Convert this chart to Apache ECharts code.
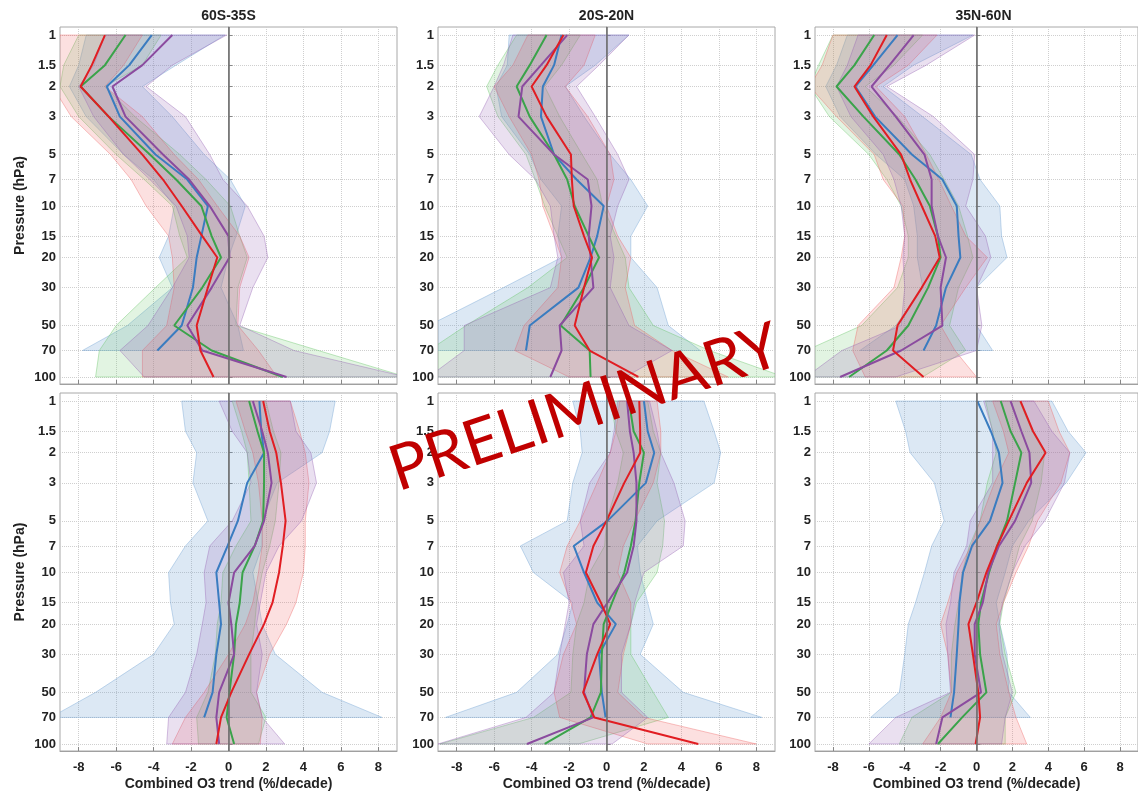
<!DOCTYPE html>
<html><head><meta charset="utf-8">
<script src="https://cdn.jsdelivr.net/npm/echarts@6/dist/echarts.min.js"></script>
<style>html,body{margin:0;padding:0;background:#fff}#c{width:1138px;height:794px}</style>
</head><body><div id="c"></div>
<script>
// ---- axes / labels ----
const levels = [1, 1.5, 2, 3, 5, 7, 10, 15, 20, 30, 50, 70, 100];
const xTicks = [-8, -6, -4, -2, 0, 2, 4, 6, 8];
const panelTitles = ['60S-35S', '20S-20N', '35N-60N'];

// ---- Panel A: top, 60S-35S ----
const A_red      = [-6.6, -7.3, -7.9, -6.4, -4.6, -3.5, -2.5, -1.4, -0.6, -1.1, -1.7, -1.5, -0.8];
const A_redLo    = [-9.0, -9.2, -9.4, -8.4, -6.3, -5.2, -4.4, -3.2, -3.0, -2.9, -3.3, -4.6, -4.6];
const A_redHi    = [-4.6, -5.6, -6.6, -4.6, -2.9, -1.6, -0.6, 0.6, 1.1, 0.6, 0.5, 1.6, 2.6];
const A_green    = [-5.5, -6.6, -7.9, -6.4, -4.2, -2.8, -1.45, -0.9, -0.4, -1.4, -2.9, -0.9, 2.9];
const A_greenLo  = [-8.0, -8.8, -9.0, -8.0, -6.0, -4.5, -3.0, -2.6, -2.2, -3.9, -6.0, -6.9, -7.1];
const A_greenHi  = [-3.6, -4.6, -6.6, -5.0, -2.6, -1.2, 0.1, 0.6, 1.0, 0.5, 0.4, 4.8, 9.5];
const A_blue     = [-4.1, -5.3, -6.5, -5.8, -3.9, -2.2, -1.1, -1.45, -1.7, -1.9, -2.5, -3.8, null];
const A_blueLo   = [-7.6, -8.0, -8.5, -7.6, -5.6, -4.0, -2.9, -3.2, -3.7, -3.0, -5.4, -7.8, null];
const A_blueHi   = [-0.2, -2.8, -4.6, -3.0, -1.3, 0.1, 0.9, 0.4, 0.0, -0.4, 0.5, 0.8, null];
const A_purple   = [-3.0, -4.6, -6.2, -5.5, -3.5, -2.1, -1.0, 0.0, 0.05, -0.9, -2.2, -1.4, 3.1];
const A_purpleLo = [-6.6, -7.2, -8.0, -7.2, -5.6, -4.2, -2.8, -2.2, -2.1, -3.0, -4.3, -5.8, -4.5];
const A_purpleHi = [-0.1, -3.0, -4.4, -2.3, -1.0, -0.3, 1.0, 1.9, 2.1, 1.3, 0.6, 3.5, 9.5];

// ---- Panel B: top, 20S-20N ----
const B_red      = [-2.3, -3.2, -4.0, -3.2, -1.9, -1.85, -1.75, -1.2, -0.77, -1.2, -1.7, -0.9, 1.7];
const B_redLo    = [-4.2, -5.0, -6.0, -5.2, -4.0, -3.6, -3.4, -2.8, -2.4, -2.6, -4.4, -4.9, -2.0];
const B_redHi    = [-0.6, -1.2, -2.2, -1.0, 0.2, 0.4, 0.0, 0.6, 1.3, 1.0, 1.5, 3.5, 6.5];
const B_green    = [-3.2, -4.1, -4.8, -4.1, -2.8, -2.1, -1.7, -0.95, -0.4, -1.2, -2.45, -0.9, -0.85];
const B_greenLo  = [-4.8, -5.8, -6.4, -5.8, -4.3, -3.8, -3.3, -2.6, -2.1, -4.2, -7.5, -9.5, -9.5];
const B_greenHi  = [-1.4, -2.4, -3.3, -2.5, -1.3, -0.5, -0.2, 0.5, 1.0, 1.2, 2.5, 5.5, 9.5];
const B_blue     = [-2.4, -2.8, -3.4, -3.5, -2.8, -1.6, -0.15, -0.5, -0.85, -1.5, -4.1, -4.3, null];
const B_blueLo   = [-5.2, -5.3, -5.9, -5.6, -4.1, -3.5, -2.4, -2.6, -2.4, -5.5, -9.5, -9.5, null];
const B_blueHi   = [1.2, -0.6, -2.2, -1.2, 0.2, 1.3, 2.2, 1.3, 1.3, 2.7, 3.3, 5.0, null];
const B_purple   = [-2.1, -3.5, -4.5, -4.7, -2.8, -1.0, -0.8, -0.95, -0.85, -0.7, -2.5, -2.4, -3.0];
const B_purpleLo = [-5.0, -5.5, -6.0, -6.8, -5.2, -3.8, -3.0, -2.8, -2.6, -3.0, -7.6, -7.6, -9.5];
const B_purpleHi = [1.2, -0.4, -1.6, -0.6, 0.6, 1.2, 0.6, 0.2, 0.4, 0.2, 1.2, 3.5, 1.0];

// ---- Panel C: top, 35N-60N ----
const C_red      = [-5.0, -5.9, -6.8, -5.75, -4.2, -3.7, -3.05, -2.3, -2.05, -3.05, -4.4, -4.65, -2.95];
const C_redLo    = [-8.0, -8.6, -9.3, -7.8, -5.7, -5.2, -4.1, -4.0, -4.2, -4.6, -6.6, -6.9, -6.2];
const C_redHi    = [-2.2, -3.8, -5.6, -4.0, -2.8, -2.1, -1.4, -0.6, 0.6, -0.6, -2.0, -1.2, 0.0];
const C_green    = [-5.7, -6.8, -7.8, -6.3, -4.3, -3.4, -2.6, -2.15, -2.0, -2.7, -3.8, -5.0, -7.1];
const C_greenLo  = [-8.0, -8.8, -9.3, -8.2, -6.0, -5.0, -4.2, -3.8, -3.8, -4.4, -6.4, -9.5, -9.5];
const C_greenHi  = [-3.0, -4.6, -6.2, -4.4, -2.6, -1.8, -1.0, -0.5, -0.2, -1.0, -1.5, -0.6, -3.0];
const C_blue     = [-4.4, -5.75, -6.75, -5.65, -3.6, -1.9, -1.1, -1.0, -0.9, -1.7, -2.25, -2.95, null];
const C_blueLo   = [-7.2, -7.8, -8.4, -7.6, -5.6, -4.0, -3.5, -3.3, -3.3, -3.0, -4.5, -6.5, null];
const C_blueHi   = [-0.2, -3.5, -5.2, -3.0, -0.3, 0.2, 1.3, 1.4, 1.7, 0.0, 0.0, 0.9, null];
const C_purple   = [-3.5, -4.85, -5.85, -4.5, -2.9, -2.5, -2.5, -2.15, -1.7, -2.0, -1.9, -4.2, -7.6];
const C_purpleLo = [-6.6, -7.2, -7.8, -7.0, -5.2, -4.6, -4.2, -4.0, -4.1, -4.0, -4.2, -7.5, -9.5];
const C_purpleHi = [-0.1, -2.8, -5.0, -2.4, -0.1, -0.2, -0.6, 0.5, 0.8, 0.0, 0.3, 0.0, -4.5];

// ---- Panel D: bottom, 60S-35S ----
const D_red      = [1.85, 2.2, 2.55, 2.8, 3.05, 2.9, 2.7, 2.35, 1.9, 1.1, 0.15, -0.4, -0.65];
const D_redLo    = [0.4, 0.9, 1.3, 1.6, 1.8, 1.8, 1.6, 1.3, 0.9, 0.0, -1.3, -2.3, -3.0];
const D_redHi    = [3.3, 3.8, 4.1, 4.3, 4.1, 4.1, 4.0, 3.6, 3.1, 2.2, 1.5, 1.8, 1.7];
const D_green    = [1.1, 1.55, 1.9, 1.9, 1.85, 1.4, 0.75, 0.6, 0.4, 0.3, 0.05, -0.1, 0.3];
const D_greenLo  = [0.2, 0.7, 1.0, 1.1, 1.2, 0.4, -0.3, -0.4, -0.6, -0.7, -1.1, -1.7, -1.6];
const D_greenHi  = [2.0, 2.4, 2.8, 2.7, 2.5, 2.2, 1.8, 1.5, 1.4, 1.2, 1.2, 2.0, 1.6];
const D_blue     = [1.65, 1.75, 1.9, 1.0, 0.5, -0.05, -0.65, -0.5, -0.4, -0.65, -0.85, -1.3, null];
const D_blueLo   = [-2.5, -2.3, -1.7, -1.9, -1.1, -2.3, -3.2, -3.1, -2.9, -4.0, -7.1, -9.5, null];
const D_blueHi   = [5.7, 5.4, 5.0, 2.6, 1.8, 1.8, 1.3, 1.6, 1.8, 2.5, 5.0, 8.2, null];
const D_purple   = [1.3, 1.8, 2.1, 2.3, 1.9, 1.4, 0.3, 0.0, 0.15, 0.3, -0.5, -0.65, -0.5];
const D_purpleLo = [-0.5, 0.2, 1.0, 1.2, 0.2, -1.0, -1.3, -1.2, -1.4, -1.7, -2.3, -3.2, -3.3];
const D_purpleHi = [3.3, 3.6, 4.4, 4.7, 3.9, 2.7, 2.0, 1.7, 1.5, 1.8, 1.5, 1.8, 3.0];

// ---- Panel E: bottom, 20S-20N ----
const E_red      = [1.75, 1.8, 1.8, 0.95, 0.0, -0.7, -1.1, -0.3, 0.2, -0.5, -1.25, -0.65, 4.9];
const E_redLo    = [0.7, 0.5, 0.2, -0.5, -1.4, -2.1, -2.5, -1.9, -1.6, -2.3, -2.8, -2.5, 2.2];
const E_redHi    = [2.7, 2.9, 2.9, 2.5, 1.5, 0.9, 0.6, 1.3, 1.3, 0.9, 0.6, 2.0, 8.0];
const E_green    = [1.2, 1.45, 2.0, 1.75, 1.55, 1.3, 0.95, 0.3, -0.15, -0.25, -0.3, -0.85, -3.3];
const E_greenLo  = [0.2, 0.5, 0.9, 0.6, 0.0, -0.1, -0.9, -1.2, -1.6, -1.8, -1.9, -3.9, -8.9];
const E_greenHi  = [2.2, 2.5, 2.9, 2.7, 3.1, 3.0, 2.7, 1.6, 1.3, 1.3, 2.5, 3.3, -1.5];
const E_blue     = [2.0, 2.2, 2.55, 2.1, 0.05, -1.75, -1.2, -0.5, 0.5, -0.4, -0.25, -0.05, null];
const E_blueLo   = [-1.8, -1.4, -1.3, -1.8, -2.1, -4.6, -3.9, -1.8, -2.1, -2.6, -4.8, -8.6, null];
const E_blueHi   = [5.2, 5.75, 6.1, 5.75, 2.7, 1.65, 1.8, 2.2, 2.5, 1.8, 4.1, 8.3, null];
const E_purple   = [1.1, 1.25, 1.45, 1.6, 1.6, 1.45, 1.1, 0.05, -0.7, -1.05, -1.2, -0.7, -4.25];
const E_purpleLo = [0.6, 0.4, 0.2, -0.9, -1.4, -1.2, -2.3, -2.0, -2.2, -2.5, -2.8, -4.3, -9.0];
const E_purpleHi = [2.3, 2.7, 2.9, 3.6, 4.2, 4.1, 2.0, 1.5, 1.3, 0.8, 0.8, 2.2, 0.3];

// ---- Panel F: bottom, 35N-60N ----
const F_red      = [2.45, 3.15, 3.85, 2.8, 1.8, 1.15, 0.55, 0.0, -0.45, -0.2, 0.1, 0.2, -0.05];
const F_redLo    = [0.9, 1.5, 1.8, 1.0, 0.2, -0.3, -1.1, -1.6, -2.0, -1.6, -1.4, -2.0, -3.0];
const F_redHi    = [4.0, 4.6, 5.2, 4.7, 3.4, 2.9, 2.2, 1.5, 1.1, 1.3, 1.8, 2.2, 2.8];
const F_green    = [1.35, 1.9, 2.5, 2.15, 1.7, 1.15, 0.7, 0.25, 0.1, 0.2, 0.55, -0.8, -2.15];
const F_greenLo  = [0.5, 0.9, 1.1, 0.6, 0.2, -0.4, -0.8, -1.0, -1.2, -1.4, -1.4, -3.6, -4.3];
const F_greenHi  = [2.4, 3.1, 3.8, 3.6, 3.1, 2.4, 2.0, 1.5, 1.3, 1.6, 2.2, 1.6, 1.6];
const F_blue     = [0.05, 0.8, 1.25, 1.45, 0.75, -0.25, -0.75, -0.95, -1.0, -1.1, -1.25, -1.45, null];
const F_blueLo   = [-4.5, -3.95, -3.7, -2.35, -1.8, -2.5, -2.9, -3.4, -3.8, -4.0, -4.3, -5.9, null];
const F_blueHi   = [4.2, 5.1, 6.1, 5.0, 2.9, 2.0, 1.6, 1.1, 1.3, 1.7, 1.8, 3.0, null];
const F_purple   = [1.9, 2.5, 2.95, 3.05, 2.15, 1.25, 0.65, 0.35, -0.1, -0.1, 0.25, -1.9, -2.25];
const F_purpleLo = [0.4, 0.9, 0.9, 0.9, -0.35, -0.55, -1.25, -1.45, -1.7, -1.6, -1.45, -4.5, -6.0];
const F_purpleHi = [3.2, 4.2, 5.2, 4.9, 3.8, 2.7, 2.0, 1.45, 1.25, 1.45, 2.0, 1.6, 1.4];

// ---- build ----
const panels = [
  {blue:[A_blue,A_blueLo,A_blueHi], green:[A_green,A_greenLo,A_greenHi], red:[A_red,A_redLo,A_redHi], purple:[A_purple,A_purpleLo,A_purpleHi]},
  {blue:[B_blue,B_blueLo,B_blueHi], green:[B_green,B_greenLo,B_greenHi], red:[B_red,B_redLo,B_redHi], purple:[B_purple,B_purpleLo,B_purpleHi]},
  {blue:[C_blue,C_blueLo,C_blueHi], green:[C_green,C_greenLo,C_greenHi], red:[C_red,C_redLo,C_redHi], purple:[C_purple,C_purpleLo,C_purpleHi]},
  {blue:[D_blue,D_blueLo,D_blueHi], green:[D_green,D_greenLo,D_greenHi], red:[D_red,D_redLo,D_redHi], purple:[D_purple,D_purpleLo,D_purpleHi]},
  {blue:[E_blue,E_blueLo,E_blueHi], green:[E_green,E_greenLo,E_greenHi], red:[E_red,E_redLo,E_redHi], purple:[E_purple,E_purpleLo,E_purpleHi]},
  {blue:[F_blue,F_blueLo,F_blueHi], green:[F_green,F_greenLo,F_greenHi], red:[F_red,F_redLo,F_redHi], purple:[F_purple,F_purpleLo,F_purpleHi]}
];
const lineColor = {red:'#e11d22', green:'#3aa34a', blue:'#3a7cc0', purple:'#8b4b9f'};
const bandRGB = {red:'238,100,100', green:'100,195,100', blue:'110,160,210', purple:'150,100,180'};
const bandAlpha = {red:0.2, green:0.19, blue:0.24, purple:0.2};

const gridLeft = [60, 438, 815];
const gridTop = [27, 393];
const PW = 337, PH = 358;
const yVals = levels.map(p => Math.log10(p));
const fontFam = '"Liberation Sans", Arial, sans-serif';

const grids = [], xAxes = [], yAxes = [], series = [];
for (let g = 0; g < 6; g++) {
  const row = Math.floor(g / 3), col = g % 3;
  const bottom = row === 1;
  grids.push({left: gridLeft[col], top: gridTop[row], width: PW, height: PH - (row === 0 ? 1 : 0),
    show: true, borderColor: '#a8a8a8', borderWidth: 1, containLabel: false});
  xAxes.push({gridIndex: g, type: 'value', min: -9, max: 9,
    axisLine: {show: true, onZero: false, lineStyle: {color: '#a0a0a0'}},
    axisTick: {show: true, inside: true, length: 4, customValues: xTicks, lineStyle: {color: '#888'}},
    axisLabel: {show: bottom, customValues: xTicks, fontSize: 13, fontWeight: 'bold', color: '#222', fontFamily: fontFam, margin: 10},
    splitLine: {show: true, lineStyle: {color: '#cfcfcf', type: 'dotted', width: 1}},
    name: bottom ? 'Combined O3 trend (%/decade)' : '', nameLocation: 'middle', nameGap: 26,
    nameTextStyle: {fontSize: 14, fontWeight: 'bold', color: '#222', fontFamily: fontFam}
  });
  yAxes.push({gridIndex: g, type: 'value', inverse: true, min: -0.047, max: 2.041,
    axisLine: {show: true, lineStyle: {color: '#a0a0a0'}},
    axisTick: {show: true, inside: true, length: 4, customValues: yVals, lineStyle: {color: '#888'}},
    axisLabel: {show: true, customValues: yVals, fontSize: 13, fontWeight: 'bold', color: '#222', fontFamily: fontFam, margin: 4,
      formatter: v => { const p = Math.pow(10, v); return (p > 1.1 && p < 1.9) ? p.toFixed(1) : String(Math.round(p)); }},
    splitLine: {show: true, lineStyle: {color: '#cfcfcf', type: 'dotted', width: 1}},
    name: col === 0 ? 'Pressure (hPa)' : '', nameLocation: 'middle', nameGap: 33, nameRotate: 90,
    nameTextStyle: {fontSize: 14, fontWeight: 'bold', color: '#222', fontFamily: fontFam}
  });
  const pan = panels[g];
  ['blue', 'green', 'red', 'purple'].forEach(k => {
    const [, lo, hi] = pan[k];
    const data = [];
    levels.forEach((p, i) => { if (lo[i] != null) data.push([lo[i], hi[i], Math.log10(p)]); });
    series.push({type: 'custom', xAxisIndex: g, yAxisIndex: g, silent: true, clip: true, z: 2,
      data: data, encode: {x: [0, 1], y: 2},
      renderItem: (params, api) => {
        if (params.dataIndex !== 0) return null;
        const n = params.dataInsideLength;
        const pts = [];
        for (let i = 0; i < n; i++) pts.push(api.coord([api.value(0, i), api.value(2, i)]));
        for (let i = n - 1; i >= 0; i--) pts.push(api.coord([api.value(1, i), api.value(2, i)]));
        return {type: 'polygon', shape: {points: pts},
          style: {fill: 'rgba(' + bandRGB[k] + ',' + bandAlpha[k] + ')', stroke: 'rgba(' + bandRGB[k] + ',0.5)', lineWidth: 0.8}};
      }
    });
  });
  ['blue', 'green', 'purple', 'red'].forEach((k, idx) => {
    const vals = pan[k][0];
    const data = [];
    levels.forEach((p, i) => { if (vals[i] != null) data.push([vals[i], Math.log10(p)]); });
    const s = {type: 'line', xAxisIndex: g, yAxisIndex: g, data: data, showSymbol: false, silent: true, clip: true, z: 4,
      lineStyle: {color: lineColor[k], width: 2}, itemStyle: {color: lineColor[k]}};
    if (idx === 0) {
      s.markLine = {silent: true, symbol: 'none', label: {show: false}, animation: false,
        lineStyle: {color: '#707070', width: 1.6, type: 'solid'}, data: [{xAxis: 0}]};
    }
    series.push(s);
  });
}

const graphics = panelTitles.map((t, i) => ({type: 'text', x: gridLeft[i] + PW / 2, y: 16, z: 10,
  style: {text: t, font: 'bold 14px ' + fontFam, fill: '#222', textAlign: 'center', textVerticalAlign: 'middle'}}));
graphics.push({type: 'text', x: 585, y: 408, rotation: 0.32, z: 100,
  style: {text: 'PRELIMINARY', font: '63px Lato, "Open Sans", sans-serif', fill: '#c00000', textAlign: 'center', textVerticalAlign: 'middle'}});

const chart = echarts.init(document.getElementById('c'), null, {renderer: 'canvas'});
chart.setOption({animation: false, grid: grids, xAxis: xAxes, yAxis: yAxes, series: series, graphic: graphics});
</script></body></html>
